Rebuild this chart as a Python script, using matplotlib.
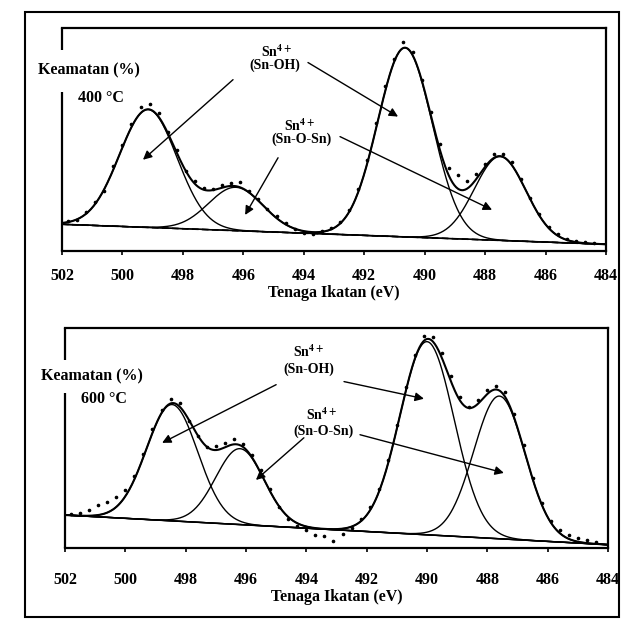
import matplotlib
matplotlib.use('Agg')
import matplotlib.pyplot as plt
import numpy as np
from matplotlib.patches import Rectangle

# binding energy of the measured points (eV)
energy = [501.8, 501.5, 501.2, 500.9, 500.6, 500.3, 500.0, 499.7, 499.4, 499.1,
          498.8, 498.5, 498.2, 497.9, 497.6, 497.3, 497.0, 496.7, 496.4, 496.1,
          495.8, 495.5, 495.2, 494.9, 494.6, 494.3, 494.0, 493.7, 493.4, 493.1,
          492.8, 492.5, 492.2, 491.9, 491.6, 491.3, 491.0, 490.7, 490.4, 490.1,
          489.8, 489.5, 489.2, 488.9, 488.6, 488.3, 488.0, 487.7, 487.4, 487.1,
          486.8, 486.5, 486.2, 485.9, 485.6, 485.3, 485.0, 484.7, 484.4]

# measured intensity (arbitrary, 0-100 of the plot height)
dots_400 = [13.5, 14.0, 17.5, 22.0, 27.0, 38.0, 47.5, 57.0, 64.5, 66.0,
            62.0, 53.5, 45.5, 36.0, 31.5, 28.5, 28.0, 29.5, 30.5, 31.0,
            27.0, 23.5, 19.0, 15.5, 12.5, 10.0, 8.0, 7.5, 9.0, 10.5,
            13.0, 18.5, 28.0, 41.0, 57.5, 74.0, 86.5, 94.0, 89.5, 77.0,
            62.5, 48.0, 37.5, 34.0, 31.5, 34.5, 39.0, 43.5, 43.5, 40.0,
            32.5, 24.0, 16.5, 11.0, 7.5, 5.5, 4.5, 4.0, 3.5]

dots_600 = [15.5, 16.0, 17.5, 19.5, 21.0, 23.0, 26.5, 33.0, 43.0, 54.0,
            63.0, 68.0, 66.0, 58.0, 51.0, 46.0, 46.5, 48.0, 49.5, 47.5,
            42.5, 35.5, 27.0, 18.5, 13.0, 10.0, 8.0, 6.0, 5.5, 3.0,
            6.5, 9.0, 13.0, 18.5, 27.0, 40.0, 56.0, 73.5, 88.0, 96.5,
            96.0, 89.0, 78.5, 69.0, 64.0, 67.5, 72.0, 74.0, 71.0, 61.0,
            47.0, 32.0, 20.5, 12.5, 8.0, 6.0, 4.5, 3.5, 2.5]

# fitted components: centre (eV), height, width (sigma)
centres_400 = [499.15, 496.25, 490.65, 487.5]
heights_400 = [53.0, 19.5, 85.0, 37.7]
widths_400 = [0.95, 0.9, 0.9, 0.85]
baseline_400 = [12.0, 3.0]   # at 502 eV and 484 eV

centres_600 = [498.45, 496.2, 490.0, 487.6]
heights_600 = [53.0, 34.6, 88.0, 65.0]
widths_600 = [0.85, 0.8, 0.9, 0.85]
baseline_600 = [15.0, 1.5]

x_ticks = [502, 500, 498, 496, 494, 492, 490, 488, 486, 484]

# arrows: (start, end) in (eV, intensity)
arrows_400 = [((493.86, 84.7), (490.88, 60.4)),
              ((496.34, 77.0), (499.32, 41.0)),
              ((492.80, 51.4), (487.77, 18.5)),
              ((494.85, 41.9), (495.94, 16.2))]
arrows_600 = [((495.00, 74.4), (498.78, 47.9)),
              ((492.75, 75.8), (490.10, 68.0)),
              ((494.08, 50.2), (495.67, 31.0)),
              ((492.22, 51.6), (487.45, 34.2))]

labels_400 = [('Sn$^{4+}$', 494.92, 89.6), ('(Sn-OH)', 494.95, 83.3),
              ('Sn$^{4+}$', 494.16, 56.3), ('(Sn-O-Sn)', 494.09, 50.0)]
labels_600 = [('Sn$^{4+}$', 493.94, 89.5), ('(Sn-OH)', 493.91, 81.3),
              ('Sn$^{4+}$', 493.51, 60.7), ('(Sn-O-Sn)', 493.42, 53.0)]

plt.rcParams['font.family'] = ['Liberation Serif', 'DejaVu Serif']
plt.rcParams['font.weight'] = 'bold'
plt.rcParams['axes.labelweight'] = 'bold'
plt.rcParams['mathtext.fontset'] = 'stix'
plt.rcParams['mathtext.default'] = 'bf'


def draw_panel(ax, dots, centres, heights, widths, base, arrows, labels,
               temp, gap, dashed_base, tick_pad):
    e = np.linspace(502, 484, 600)
    b = base[0] + (base[1] - base[0]) * (502 - e) / 18.0
    total = b.copy()
    for c, h, w in zip(centres, heights, widths):
        comp = h * np.exp(-(e - c) ** 2 / (2 * w ** 2))
        total += comp
        ax.plot(e, b + comp, color='black', lw=1.0)
    ax.plot(e, total, color='black', lw=1.5)
    if dashed_base:
        ax.plot(e, b, color='black', lw=1.2, ls=(0, (4, 2)))
    else:
        ax.plot(e, b, color='black', lw=1.1)
    ax.plot(energy, dots, ls='none', marker='o', ms=1.6, color='black')

    for (x0, y0), (x1, y1) in arrows:
        ax.annotate('', xy=(x1, y1), xytext=(x0, y0),
                    arrowprops=dict(arrowstyle='-|>', color='black', lw=1.0,
                                    mutation_scale=13, shrinkA=0, shrinkB=0))
    for txt, x, y in labels:
        ax.text(x, y, txt, ha='center', va='center', fontsize=10)

    ax.set_xlim(502, 484)
    ax.set_ylim(0, 100)
    ax.set_xticks(x_ticks)
    ax.set_yticks([])
    ax.tick_params(axis='x', direction='out', length=3, width=1.2,
                   labelsize=11.5, pad=tick_pad)
    for s in ['top', 'right', 'bottom']:
        ax.spines[s].set_linewidth(1.6)
    ax.spines['left'].set_visible(False)
    ax.plot([0, 0], [0, gap[0]], transform=ax.transAxes, color='black',
            lw=1.6, clip_on=False, solid_capstyle='butt')
    ax.plot([0, 0], [gap[1], 1], transform=ax.transAxes, color='black',
            lw=1.6, clip_on=False, solid_capstyle='butt')
    ax.set_xlabel('Tenaga Ikatan (eV)', fontsize=11.5, labelpad=1)
    ax.text(-0.044, (gap[0] + gap[1]) / 2, 'Keamatan (%)', transform=ax.transAxes,
            ha='left', va='center', fontsize=11.5)
    ax.text(0.03, gap[0] - 0.03, temp, transform=ax.transAxes,
            ha='left', va='center', fontsize=11.5)


def main():
    fig = plt.figure(figsize=(6.26, 6.22), dpi=100)
    ax1 = fig.add_axes([0.099, 0.5965, 0.869, 0.3577])
    ax2 = fig.add_axes([0.1038, 0.119, 0.8674, 0.3529])

    draw_panel(ax1, dots_400, centres_400, heights_400, widths_400, baseline_400,
               arrows_400, labels_400, '400 °C', (0.716, 0.905), True, 9)
    draw_panel(ax2, dots_600, centres_600, heights_600, widths_600, baseline_600,
               arrows_600, labels_600, '600 °C', (0.708, 0.858), False, 14)

    fig.add_artist(Rectangle((0.040, 0.008), 0.949, 0.973, transform=fig.transFigure,
                             fill=False, lw=1.5, edgecolor='black'))
    fig.savefig('out.png', dpi=100)


if __name__ == '__main__':
    main()
